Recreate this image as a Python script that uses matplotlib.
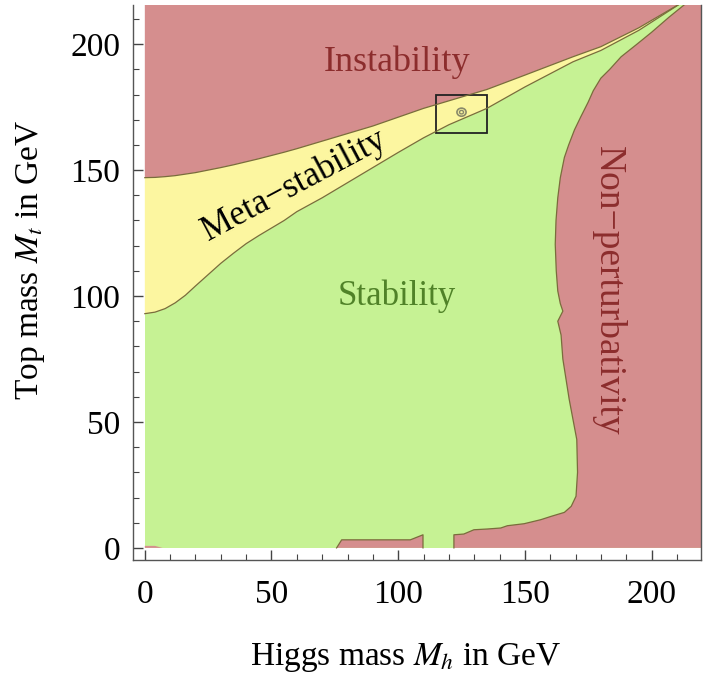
import numpy as np
import matplotlib
matplotlib.use('Agg')
import matplotlib.pyplot as plt
from matplotlib.patches import Rectangle, Ellipse

plt.rcParams['font.family'] = ['Liberation Serif', 'DejaVu Serif']
plt.rcParams['mathtext.fontset'] = 'stix'

# Meta-stability band: Higgs mass grid with upper (instability) and lower (stability) edges
band_mh = [0, 4, 8, 12, 16, 20, 25, 30, 35, 40, 45, 50, 55, 60, 70, 80, 90, 100, 110, 120,
           135, 150, 169, 180, 195, 212]
band_upper = [147, 147.1, 147.4, 147.8, 148.4, 149, 150, 151, 152.1, 153.3, 154.5, 155.8,
              157.1, 158.5, 161.5, 164.5, 167.5, 171, 174.5, 177.5, 182, 187.7, 195, 199,
              206.5, 216.5]
band_lower = [93, 93.6, 95, 97.3, 100.3, 104, 108.5, 113, 117, 120.8, 124, 127, 130, 133.5,
              139, 145, 151, 157, 162.8, 168, 174.5, 183, 193, 197.5, 205.5, 216.5]

# Non-perturbativity boundary (top to bottom)
np_mh = [214, 207, 200, 194, 188, 183.5, 180, 177, 175, 172, 169.6, 167.3, 165.6, 164, 163,
         162.3, 162, 162.4, 163, 164, 165, 163, 164.3, 165, 167.5, 170.5, 170.8, 170.2, 168.3,
         165.6, 160.3, 156.3, 149.7, 143.1, 140.5, 135.2, 129.9, 125.9, 122, 122]
np_mt = [216.5, 210.8, 204.7, 199.8, 195, 190, 186.5, 181.5, 177, 171, 166, 160, 155, 147,
         139, 130, 120.5, 110, 102, 97, 94, 90, 84.5, 75, 59, 43, 30, 20.5, 16.5, 14.1,
         12.5, 11.2, 9.6, 8.8, 7.9, 7.5, 7.2, 5.5, 5.2, 0]

# small unstable block near the bottom
blk_mh = [75.7, 77.7, 104.8, 109.8, 109.8]
blk_mt = [0, 3.2, 3.2, 5.2, 0]

mh_max, mt_max = 222, 218
red = '#d58e8e'
yellow = '#fcf6a0'
green = '#c6f294'
edge = '#7a6c3c'

fig = plt.figure(figsize=(7.07, 6.75), dpi=100)
ax = fig.add_axes([0.188, 0.1704, 0.8034, 0.822])

# stability background
ax.fill([0, mh_max, mh_max, 0], [0, 0, mt_max, mt_max], color=green, lw=0)

# instability
ax.fill(band_mh + [mh_max, 0], band_upper + [mt_max, mt_max], color=red, lw=0)
# meta-stability
ax.fill(band_mh + band_mh[::-1], band_upper + band_lower[::-1], color=yellow, lw=0)
ax.plot(band_mh, band_upper, color=edge, lw=0.9)
ax.plot(band_mh, band_lower, color=edge, lw=0.9)

# non-perturbativity
ax.fill(np_mh + [mh_max, mh_max], np_mt + [0, mt_max], color=red, lw=0)
ax.plot(np_mh, np_mt, color=edge, lw=0.9)

ax.fill(blk_mh, blk_mt, color=red, lw=0)
ax.plot(blk_mh, blk_mt, color=edge, lw=0.9)
ax.fill([0, 0, 4, 7], [0, 0.8, 0.8, 0], color=red, lw=0)

# measured point
ax.add_patch(Rectangle((115, 164.7), 20, 15.1, fill=False, ec='#222222', lw=1.3))
ax.add_patch(Ellipse((125, 173), 3.6, 3.2, fill=False, ec='#8a8a6a', lw=1.2))
ax.add_patch(Ellipse((125, 173), 1.6, 1.4, fill=False, ec='#8a8a6a', lw=1.0))

ax.text(99.5, 193, 'Instability', color='#8c2d2d', fontsize=26, ha='center', va='center')
ax.text(99.5, 100, 'Stability', color='#508228', fontsize=25, ha='center', va='center')
ax.text(59, 144, 'Meta\u2212stability', color='black', fontsize=25, ha='center', va='center',
        rotation=28)
ax.text(183, 102, 'Non\u2212perturbativity', color='#8c2d2d', fontsize=27, ha='center',
        va='center', rotation=-90)

ax.set_xlim(-4.7, 219.5)
ax.set_ylim(-4.8, 215.5)
ax.set_xticks([0, 50, 100, 150, 200])
ax.set_yticks([0, 50, 100, 150, 200])
ax.set_xticks(np.arange(0, 220, 10), minor=True)
ax.set_yticks(np.arange(0, 216, 10), minor=True)
ax.tick_params(which='both', direction='in', top=False, right=False, labelsize=24,
               color='#444444')
ax.tick_params(axis='x', which='major', pad=14)
ax.tick_params(axis='y', which='major', pad=9)
ax.tick_params(which='major', length=7, width=1)
ax.tick_params(which='minor', length=4, width=0.8)
for s in ax.spines.values():
    s.set_color('#555555')
    s.set_linewidth(1)
ax.spines['top'].set_visible(False)

fig.text(406 / 707, 10 / 675, 'Higgs mass $M_h$ in GeV', fontsize=24, ha='center',
         va='baseline')
fig.text(38 / 707, 415 / 675, 'Top mass $M_t$ in GeV', fontsize=24, ha='center',
         va='baseline', rotation=90, rotation_mode='anchor')

fig.savefig('out.png', dpi=100)
